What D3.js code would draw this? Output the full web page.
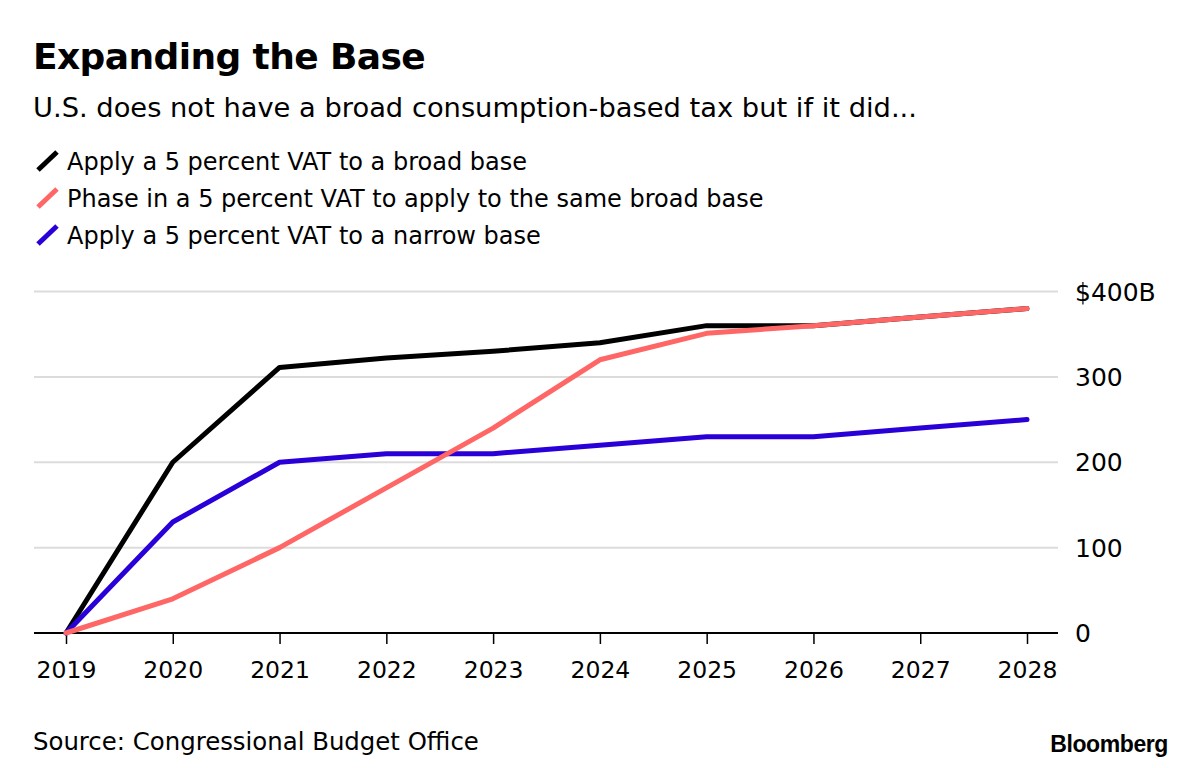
<!DOCTYPE html>
<html><head><meta charset="utf-8">
<script src="https://cdn.jsdelivr.net/npm/d3@7/dist/d3.min.js"></script>
<style>
body{margin:0;background:#fff;}
svg{display:block;font-family:"DejaVu Sans",Arial,Helvetica,sans-serif;}
</style></head>
<body>
<svg id="c" width="1200" height="768"></svg>
<script>
const years = [2019,2020,2021,2022,2023,2024,2025,2026,2027,2028];
const broadBase = [0,200,311,322,330,340,360,360,370,380];
const phaseIn   = [0,40,100,170,240,320,351,360,370,380];
const narrowBase= [0,130,200,210,210,220,230,230,240,250];
const yTicks = [0,100,200,300,400];
const yTickLabels = ["0","100","200","300","$400B"];
const seriesNames = ["Apply a 5 percent VAT to a broad base","Phase in a 5 percent VAT to apply to the same broad base","Apply a 5 percent VAT to a narrow base"];
const seriesColors = ["#000000","#ff6666","#2a00d8"];

const svg = d3.select("#c");
const x = d3.scaleLinear().domain([2019,2028]).range([66,1027]);
const y = d3.scaleLinear().domain([0,400]).range([633,291.5]);

// title
svg.append("text").attr("x",33).attr("y",69).attr("font-size",36).attr("font-weight","bold").attr("letter-spacing",-0.6).attr("fill","#000").text("Expanding the Base");
svg.append("text").attr("x",33).attr("y",117).attr("font-size",27.3).attr("fill","#000").text("U.S. does not have a broad consumption-based tax but if it did...");

// legend
seriesNames.forEach((n,i)=>{
  const by = 170 + i*37;
  svg.append("line").attr("x1",38).attr("y1",by).attr("x2",57).attr("y2",by-18)
    .attr("stroke",seriesColors[i]).attr("stroke-width",5);
  svg.append("text").attr("x",67).attr("y",by).attr("font-size",24).attr("fill","#000").text(n);
});

// grid
svg.append("g").selectAll("line").data(yTicks.filter(d=>d>0)).join("line")
  .attr("x1",34).attr("x2",1058).attr("y1",d=>y(d)).attr("y2",d=>y(d))
  .attr("stroke","#dcdcdc").attr("stroke-width",2);

// y labels
svg.append("g").selectAll("text").data(yTicks).join("text")
  .attr("x",1075).attr("y",d=>y(d)+9).attr("font-size",25).attr("fill","#000")
  .text((d,i)=>yTickLabels[i]);

// x axis
const xAxis = d3.axisBottom(x).tickValues(years).tickFormat(d3.format("d")).tickSize(11).tickSizeOuter(0);
const gx = svg.append("g").attr("transform",`translate(0,${y(0)})`).call(xAxis);
gx.select(".domain").remove();
gx.selectAll(".tick line").attr("stroke","#000").attr("stroke-width",1.5);
gx.selectAll(".tick text").attr("font-size",23.5).attr("fill","#000").attr("dy",0).attr("y",45)
  .attr("font-family","'DejaVu Sans',Arial,sans-serif");
svg.append("line").attr("x1",34).attr("x2",1058).attr("y1",y(0)).attr("y2",y(0)).attr("stroke","#000").attr("stroke-width",2);

// lines
const line = d3.line().x((d,i)=>x(years[i])).y(d=>y(d));
const data = [broadBase, narrowBase, phaseIn];
const cols = [seriesColors[0], seriesColors[2], seriesColors[1]];
data.forEach((s,i)=>{
  svg.append("path").datum(s).attr("d",line).attr("fill","none")
    .attr("stroke",cols[i]).attr("stroke-width",5).attr("stroke-linejoin","round").attr("stroke-linecap","round");
});

// source
svg.append("text").attr("x",33).attr("y",750).attr("font-size",24.4).attr("fill","#000").text("Source: Congressional Budget Office");
svg.append("text").attr("x",1168).attr("y",752).attr("text-anchor","end").attr("font-size",23).attr("font-weight","bold").attr("font-family","'Liberation Sans',Arial,sans-serif").attr("letter-spacing",-0.4).attr("fill","#000").text("Bloomberg");
</script>
</body></html>
